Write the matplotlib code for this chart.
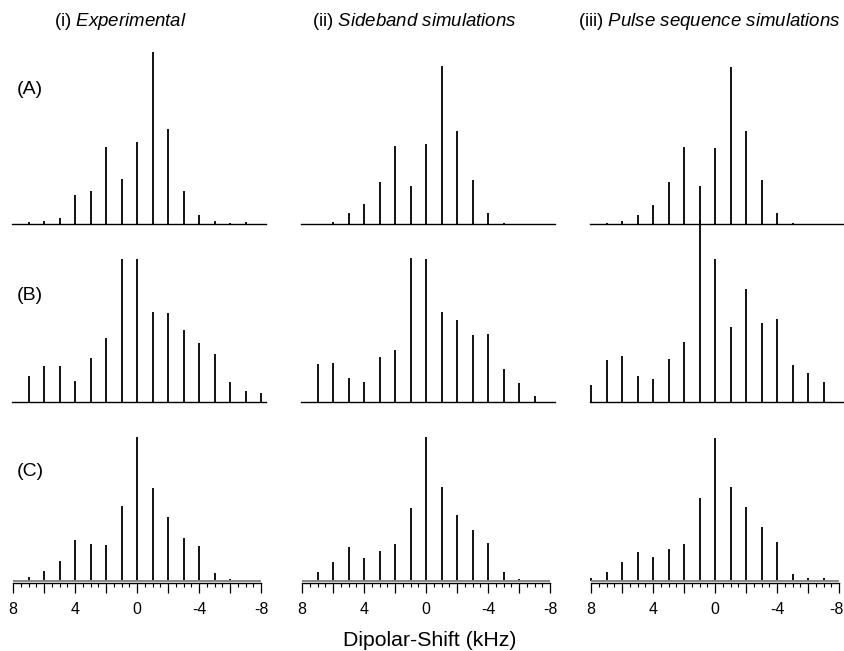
import matplotlib
matplotlib.use('Agg')
import matplotlib.pyplot as plt
import matplotlib.transforms as mtransforms
import numpy as np
from matplotlib.ticker import FixedLocator, MultipleLocator

plt.rcParams['font.family'] = ['Liberation Sans', 'DejaVu Sans']
plt.rcParams['mathtext.fontset'] = 'custom'
plt.rcParams['mathtext.rm'] = 'Liberation Sans'
plt.rcParams['mathtext.it'] = 'Liberation Sans:italic'
plt.rcParams['axes.unicode_minus'] = False

# sideband positions (kHz) and intensities (arbitrary units)
col_titles = [r'(i) $\mathit{Experimental}$',
              r'(ii) $\mathit{Sideband\ simulations}$',
              r'(iii) $\mathit{Pulse\ sequence\ simulations}$']
row_labels = ['(A)', '(B)', '(C)']

# Row A
a_exp_x = [7, 6, 5, 4, 3, 2, 1, 0, -1, -2, -3, -4, -5, -6, -7]
a_exp_y = [2.3, 3, 5.7, 29, 33, 77, 45, 82, 172, 95, 33, 9, 3.3, 1.3, 2]
a_sb_x = [6, 5, 4, 3, 2, 1, 0, -1, -2, -3, -4, -5]
a_sb_y = [2.3, 11, 20, 42, 78, 38, 80, 158, 93, 44, 11, 1]
a_ps_x = [7, 6, 5, 4, 3, 2, 1, 0, -1, -2, -3, -4, -5]
a_ps_y = [0.7, 3, 9, 19, 42, 77, 38, 76, 157, 93, 44, 11, 0.7]

# Row B
b_exp_x = [7, 6, 5, 4, 3, 2, 1, 0, -1, -2, -3, -4, -5, -6, -7, -8]
b_exp_y = [25.7, 35.7, 35.7, 21, 44, 64, 142.7, 142.7, 89.7, 89.3, 72, 59.3, 48.3, 19.7, 11.3, 8.7]
b_sb_x = [7, 6, 5, 4, 3, 2, 1, 0, -1, -2, -3, -4, -5, -6, -7]
b_sb_y = [38.3, 39, 24.3, 20, 44.7, 51.7, 144.3, 142.7, 89.7, 81.7, 67.3, 67.7, 32.7, 19.3, 5.7]
b_ps_x = [8, 7, 6, 5, 4, 3, 2, 1, 0, -1, -2, -3, -4, -5, -6, -7]
b_ps_y = [17, 41.7, 46.3, 26, 23.3, 43, 60.3, 182, 142.7, 75.3, 112.7, 78.7, 82.7, 36.7, 28.7, 19.7]

# Row C
c_exp_x = [7, 6, 5, 4, 3, 2, 1, 0, -1, -2, -3, -4, -5, -6]
c_exp_y = [3.3, 10, 19.3, 41, 36.3, 35.3, 75, 143.7, 93, 64, 42.7, 34.3, 8, 2]
c_sb_x = [7, 6, 5, 4, 3, 2, 1, 0, -1, -2, -3, -4, -5, -6]
c_sb_y = [8.7, 19, 33.3, 22.3, 29.7, 37, 72.3, 143.7, 94, 66, 50.3, 38, 8.3, 1.7]
c_ps_x = [8, 7, 6, 5, 4, 3, 2, 1, 0, -1, -2, -3, -4, -5, -6, -7]
c_ps_y = [2.7, 9, 19, 29, 23.7, 32, 37, 82.3, 143, 94, 74, 53.3, 38.3, 6.7, 2.7, 2.7]

spectra = [[(a_exp_x, a_exp_y), (a_sb_x, a_sb_y), (a_ps_x, a_ps_y)],
           [(b_exp_x, b_exp_y), (b_sb_x, b_sb_y), (b_ps_x, b_ps_y)],
           [(c_exp_x, c_exp_y), (c_sb_x, c_sb_y), (c_ps_x, c_ps_y)]]

tick_vals = [8, 4, 0, -4, -8]
tick_labels = ['8', '4', '0', '-4', '-8']

W, H = 844, 651
fig = plt.figure(figsize=(W / 100, H / 100), dpi=100)

col_left = [13, 302, 591]
col_width = 248
row_base = [224, 402, 583]
ax_h = 180

for r in range(3):
    for c in range(3):
        ax = fig.add_axes([col_left[c] / W, 1 - row_base[r] / H, col_width / W, ax_h / H])
        ax.patch.set_visible(False)
        x, y = spectra[r][c]
        ax.vlines(x, 0, y, color='black', lw=1.3, clip_on=False)
        ax.set_xlim(8, -8)
        for s in ['top', 'right', 'left']:
            ax.spines[s].set_visible(False)
        ax.set_yticks([])
        if r < 2:
            ax.set_ylim(0, 180)
            ax.spines['bottom'].set_visible(False)
            ax.axhline(0, color='black', lw=1.0, xmin=-0.003, xmax=1.02, clip_on=False)
            ax.set_xticks([])
        else:
            ax.set_ylim(-2.5, 177.5)
            ax.axhline(0, color='#888888', lw=1.4)
            ax.spines['bottom'].set_linewidth(1.0)
            majors = np.arange(8, -9, -2)
            ax.xaxis.set_major_locator(FixedLocator(majors))
            ax.xaxis.set_minor_locator(MultipleLocator(0.5))
            ax.set_xticklabels([tick_labels[tick_vals.index(v)] if v in tick_vals else ''
                                for v in majors])
            ax.tick_params(axis='x', which='major', direction='out', length=7.5,
                           width=0.9, pad=6, labelsize=11.5)
            ax.tick_params(axis='x', which='minor', direction='out', length=3,
                           width=0.8)
            if c == 2:
                lab = ax.get_xticklabels()[-1]
                lab.set_transform(lab.get_transform() +
                                  mtransforms.ScaledTranslation(-3 / 100, 0, fig.dpi_scale_trans))

title_x = [54, 312, 578]
for c in range(3):
    fig.text(title_x[c] / W, 1 - 22 / H, col_titles[c], fontsize=13.4,
             ha='left', va='center')

row_y = [89, 295, 472]
for r in range(3):
    fig.text(17 / W, 1 - row_y[r] / H, row_labels[r], fontsize=14,
             ha='left', va='center')

fig.text(430 / W, 1 - 641 / H, 'Dipolar-Shift (kHz)', fontsize=15.3,
         ha='center', va='center')

fig.savefig('out.png', dpi=100)
